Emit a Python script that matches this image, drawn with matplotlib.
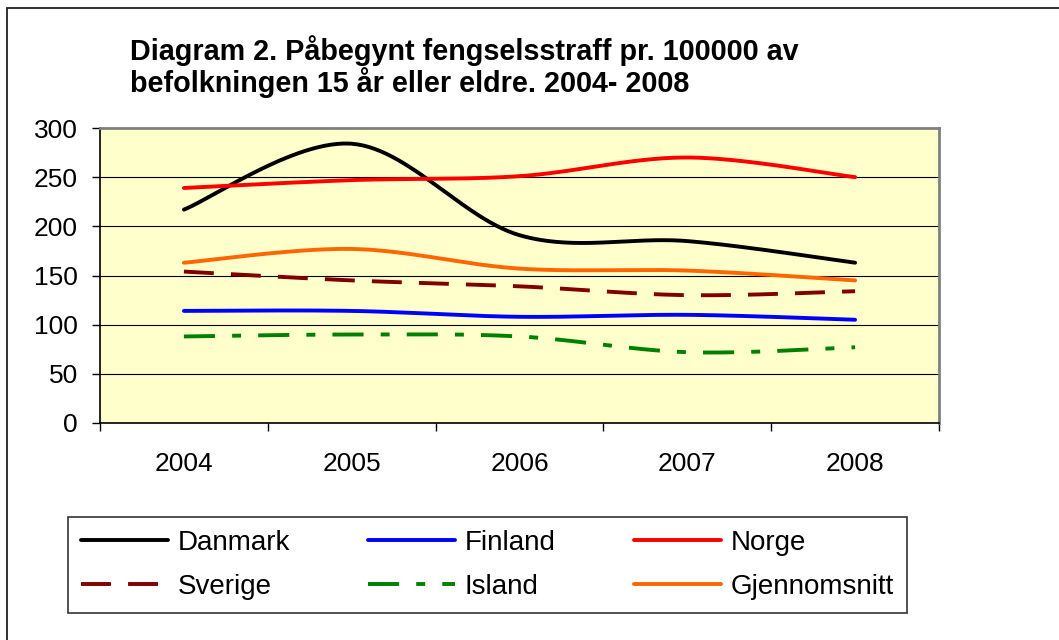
import numpy as np
import matplotlib
matplotlib.use("Agg")
import matplotlib.pyplot as plt
from matplotlib.patches import Rectangle

# ---- data ----
years = ["2004", "2005", "2006", "2007", "2008"]
danmark = [217, 284, 191, 185, 163]
finland = [114, 114, 108, 110, 105]
norge = [239, 247, 251, 270, 250]
sverige = [154, 145, 139, 130, 134]
island = [88, 90, 88, 72, 77]
gjennomsnitt = [163, 177, 157, 155, 145]

series = [
    ("Danmark", danmark),
    ("Finland", finland),
    ("Norge", norge),
    ("Sverige", sverige),
    ("Island", island),
    ("Gjennomsnitt", gjennomsnitt),
]
styles = {
    "Danmark": dict(color="#000000", ls="-"),
    "Finland": dict(color="#0000FF", ls="-"),
    "Norge": dict(color="#FF0000", ls="-"),
    "Sverige": dict(color="#800000", ls=(0, (7.7, 4.4))),
    "Island": dict(color="#008000", ls=(0, (8.0, 4.4, 2.3, 4.4))),
    "Gjennomsnitt": dict(color="#FF6600", ls="-"),
}


def smooth(values, n=60):
    """Excel-like smoothed line: Catmull-Rom style cubic Bezier segments."""
    y = np.asarray(values, float)
    x = np.arange(len(y), dtype=float)
    xs, ys = [], []
    t = np.linspace(0, 1, n)
    for i in range(len(y) - 1):
        x0, y0 = (x[i - 1], y[i - 1]) if i > 0 else (x[i], y[i])
        x3, y3 = (x[i + 2], y[i + 2]) if i + 2 < len(y) else (x[i + 1], y[i + 1])
        c1x = x[i] + (x[i + 1] - x0) / 6
        c1y = y[i] + (y[i + 1] - y0) / 6
        c2x = x[i + 1] - (x3 - x[i]) / 6
        c2y = y[i + 1] - (y3 - y[i]) / 6
        b0 = (1 - t) ** 3
        b1 = 3 * (1 - t) ** 2 * t
        b2 = 3 * (1 - t) * t ** 2
        b3 = t ** 3
        xs.append(b0 * x[i] + b1 * c1x + b2 * c2x + b3 * x[i + 1])
        ys.append(b0 * y[i] + b1 * c1y + b2 * c2y + b3 * y[i + 1])
    return np.concatenate(xs), np.concatenate(ys)


W, H = 1059, 640
FAM = ["Liberation Sans", "DejaVu Sans"]
fig = plt.figure(figsize=(W / 100, H / 100), dpi=100)
fig.patch.set_facecolor("white")

# outer frame
fig.add_artist(Rectangle((7 / W, -0.05), 1.2, 1 - 8 / H + 0.05,
                         transform=fig.transFigure, fill=False,
                         edgecolor="#202020", lw=1.3))

ax = fig.add_axes([100 / W, 1 - 423 / H, 839 / W, 295 / H])
ax.set_facecolor("#FFFFCC")

lines = {}
for name, vals in series:
    sx, sy = smooth(vals)
    st = styles[name]
    (ln,) = ax.plot(sx, sy, color=st["color"], ls=st["ls"], lw=2.8,
                    solid_capstyle="round", dash_capstyle="butt",
                    label=name, zorder=3)
    lines[name] = ln

ax.set_xlim(-0.5, len(years) - 0.5)
ax.set_ylim(0, 300)
ax.set_yticks(np.arange(0, 301, 50))
ax.yaxis.grid(True, color="#000000", lw=0.8)
ax.set_axisbelow(True)

ax.set_xticks(np.arange(-0.5, len(years), 1.0))
ax.set_xticklabels([])
ax.set_xticks(np.arange(len(years)), minor=True)
ax.set_xticklabels(years, minor=True)
ax.tick_params(axis="x", which="major", direction="out", length=6, width=1)
ax.tick_params(axis="x", which="minor", length=0, pad=21, labelsize=19)
ax.tick_params(axis="y", direction="out", length=6, width=1, pad=10,
               labelsize=19)

for lab in ax.get_xticklabels(minor=True) + ax.get_yticklabels():
    lab.set_fontfamily(FAM)

for s in ["left", "bottom"]:
    ax.spines[s].set_color("#000000")
    ax.spines[s].set_linewidth(1.2)
for s in ["top", "right"]:
    ax.spines[s].set_color("#808080")
    ax.spines[s].set_linewidth(2)

fig.text(130 / W, 1 - 35 / H,
         "Diagram 2. Påbegynt fengselsstraff pr. 100000 av\n"
         "befolkningen 15 år eller eldre. 2004- 2008",
         ha="left", va="top", fontsize=20.7, fontweight="bold",
         family=FAM, linespacing=1.05)

# legend filled row-wise: matplotlib fills columns, so reorder
order = ["Danmark", "Sverige", "Finland", "Island", "Norge", "Gjennomsnitt"]
leg = fig.legend([lines[n] for n in order], order, ncol=3, loc="upper left",
                 bbox_to_anchor=(68 / W, 1 - 517 / H),
                 frameon=True, fancybox=False, shadow=False,
                 prop=dict(family=FAM, size=20),
                 handlelength=3.13, handletextpad=0.36, columnspacing=2.8,
                 labelspacing=0.65, borderpad=0.46, borderaxespad=0)
leg.get_frame().set_edgecolor("#000000")
leg.get_frame().set_linewidth(1.2)

fig.savefig("out.png", dpi=100, facecolor="white")
